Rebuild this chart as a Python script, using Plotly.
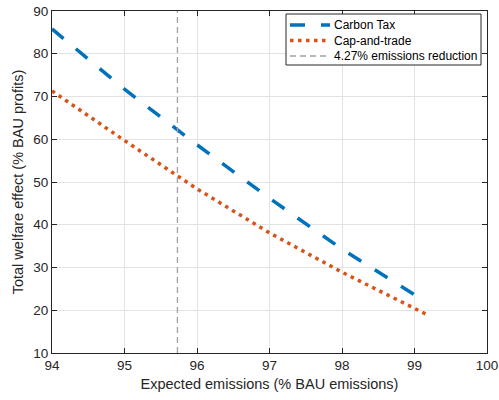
import plotly.graph_objects as go

# Expected emissions (% of BAU emissions)
emissions = [94.0, 95.0, 96.0, 97.0, 98.0, 99.0, 99.17]
# Total welfare effect (% of BAU profits)
carbon_tax = [85.8, 71.7, 58.7, 46.2, 34.3, 23.6, 21.8]
cap_and_trade = [71.3, 59.7, 48.4, 38.1, 28.9, 20.5, 19.0]

reduction_pct = 4.27
reduction_x = 100 - reduction_pct

x_ticks = [94, 95, 96, 97, 98, 99, 100]
y_ticks = [10, 20, 30, 40, 50, 60, 70, 80, 90]

series_names = ["Carbon Tax", "Cap-and-trade", f"{reduction_pct:.2f}% emissions reduction"]

BLUE = "#0072bd"
ORANGE = "#d95319"
GREY = "#a0a0a0"
AXIS = "#262626"
GRID = "#e3e3e3"
FONT = "Liberation Sans, Arial, sans-serif"

styles = [
    dict(color=BLUE, width=3.5, dash="15px,16px"),
    dict(color=ORANGE, width=3.5, dash="3.5px,4.5px"),
    dict(color=GREY, width=1.3, dash="6px,4px"),
]

# figure geometry (pixels)
W, H = 499, 400
ML, MR, MT, MB = 52, 12, 11, 47
PW, PH = W - ML - MR, H - MT - MB


def px_to_paper(px, py):
    return (px - ML) / PW, 1 - (py - MT) / PH


fig = go.Figure()

fig.add_trace(go.Scatter(x=emissions, y=carbon_tax, mode="lines",
                         name=series_names[0], line=styles[0], showlegend=False))
fig.add_trace(go.Scatter(x=emissions, y=cap_and_trade, mode="lines",
                         name=series_names[1], line=styles[1], showlegend=False))
fig.add_trace(go.Scatter(x=[reduction_x, reduction_x], y=[y_ticks[0], y_ticks[-1]],
                         mode="lines", name=series_names[2], line=styles[2],
                         showlegend=False))

# boxed legend in the upper-right corner
box_l, box_t, box_r, box_b = 286, 14, 481, 65
x0, y0 = px_to_paper(box_l, box_t)
x1, y1 = px_to_paper(box_r, box_b)
shapes = [dict(type="rect", xref="paper", yref="paper", x0=x0, x1=x1, y0=y1, y1=y0,
               fillcolor="white", line=dict(color=AXIS, width=1), layer="above")]
annotations = []
row_y = [25, 40.5, 56]
for name, style, ry in zip(series_names, styles, row_y):
    sx0, sy = px_to_paper(290, ry)
    sx1, _ = px_to_paper(330, ry)
    shapes.append(dict(type="line", xref="paper", yref="paper", x0=sx0, x1=sx1,
                       y0=sy, y1=sy, line=style, layer="above"))
    tx, _ = px_to_paper(332, ry)
    annotations.append(dict(xref="paper", yref="paper", x=tx, y=sy, text=name,
                            showarrow=False, xanchor="left", yanchor="middle",
                            font=dict(family=FONT, size=12, color="#000000")))

axis_common = dict(
    showline=True, linecolor=AXIS, linewidth=1, mirror="ticks",
    ticks="inside", ticklen=5, tickcolor=AXIS, tickwidth=1,
    showgrid=True, gridcolor=GRID, gridwidth=1, zeroline=False,
    tickfont=dict(family=FONT, size=13.5, color=AXIS),
    title_font=dict(family=FONT, size=14.5, color=AXIS),
)

fig.update_xaxes(
    range=[94, 100], tickvals=x_ticks, ticktext=[str(v) for v in x_ticks],
    title_text="Expected emissions (% BAU emissions)", title_standoff=6,
    **axis_common,
)
fig.update_yaxes(
    range=[10, 90], tickvals=y_ticks, ticktext=[str(v) for v in y_ticks],
    title_text="Total welfare effect (% BAU profits)", title_standoff=6,
    **axis_common,
)

fig.update_layout(
    width=W, height=H,
    margin=dict(l=ML, r=MR, t=MT, b=MB, autoexpand=False),
    paper_bgcolor="white", plot_bgcolor="white",
    font=dict(family=FONT, color=AXIS),
    shapes=shapes, annotations=annotations,
    showlegend=False,
)

fig.write_html("out.html")
